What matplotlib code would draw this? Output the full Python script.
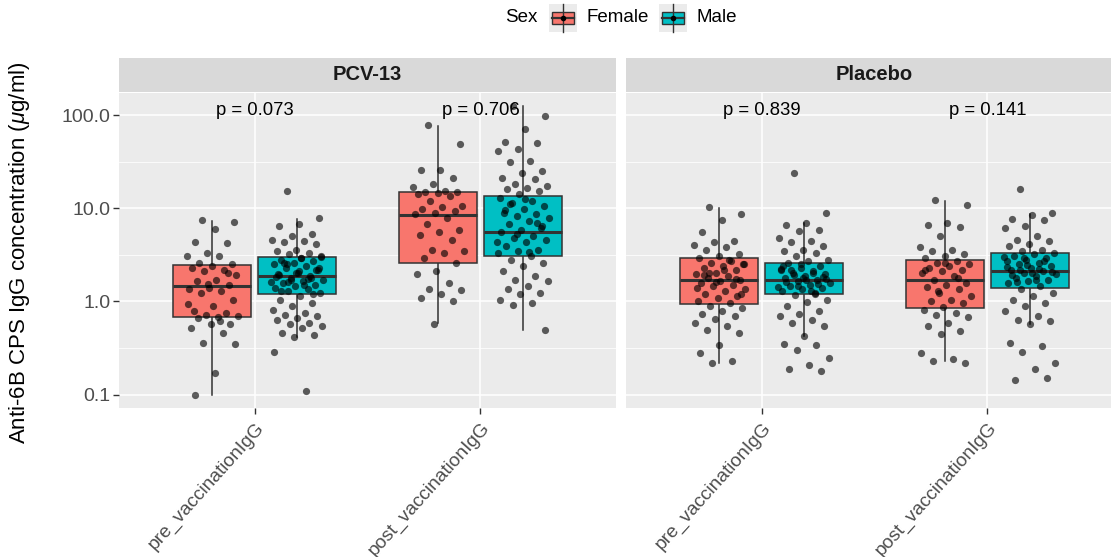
import numpy as np
import matplotlib
matplotlib.use("Agg")
from matplotlib import pyplot as plt
from matplotlib.patches import Rectangle

plt.rcParams['font.family'] = ['Liberation Sans', 'DejaVu Sans']
plt.rcParams['mathtext.fontset'] = 'custom'
plt.rcParams['mathtext.it'] = 'Liberation Sans:italic'
plt.rcParams['mathtext.rm'] = 'Liberation Sans'

# categorias e paineis
categorias = ['pre_vaccinationIgG', 'post_vaccinationIgG']
paineis = ['PCV-13', 'Placebo']
sexos = ['Female', 'Male']
cores = ['#F8766D', '#00BFC4']
p_valores = [['p = 0.073', 'p = 0.706'], ['p = 0.839', 'p = 0.141']]

# estatisticas das caixas: [bigode inf, Q1, mediana, Q3, bigode sup]
pcv_pre_female_box = [0.10, 0.68, 1.46, 2.46, 7.3]
pcv_pre_male_box = [0.42, 1.20, 1.87, 3.0, 7.7]
pcv_post_female_box = [0.59, 2.6, 8.5, 15.0, 77]
pcv_post_male_box = [0.49, 3.1, 5.6, 13.6, 126]
plc_pre_female_box = [0.22, 0.94, 1.70, 2.9, 10.0]
plc_pre_male_box = [0.43, 1.20, 1.72, 2.6, 7.0]
plc_post_female_box = [0.23, 0.85, 1.72, 2.8, 12.0]
plc_post_male_box = [0.57, 1.38, 2.10, 3.3, 8.6]

# pontos individuais (ug/ml)
pcv_pre_female = [7.4, 7.1, 6.0, 4.3, 4.2, 3.3, 3.1, 3.1, 2.6, 2.5, 2.4, 2.3, 2.2, 2.1,
                  1.9, 1.7, 1.66, 1.5, 1.4, 1.35, 1.3, 1.24, 1.05, 0.89, 0.79, 0.76,
                  0.72, 0.70, 0.68, 0.67, 0.58, 0.57, 0.52, 0.46, 0.36, 0.35, 0.17, 0.10,
                  2.0, 1.55, 0.95, 0.62]
pcv_pre_male = [15.2, 7.8, 6.7, 6.5, 5.3, 5.0, 4.6, 4.5, 4.3, 4.1, 3.6, 3.5, 3.3, 3.2,
                3.1, 2.95, 2.8, 2.7, 2.6, 2.5, 2.4, 2.3, 2.2, 2.03, 1.95, 1.87, 1.8,
                1.72, 1.65, 1.59, 1.52, 1.46, 1.4, 1.35, 1.29, 1.24, 1.14, 1.05, 0.97,
                0.89, 0.82, 0.76, 0.72, 0.70, 0.67, 0.64, 0.59, 0.57, 0.54, 0.52, 0.46,
                0.44, 0.42, 0.29, 0.11, 2.5, 2.3, 2.1, 1.9, 1.8, 1.7, 1.6, 1.5, 2.6,
                2.2, 2.0, 1.85, 1.75, 1.62, 3.0, 2.9, 1.3, 1.2]
pcv_post_female = [79, 49, 25.6, 26, 21, 18, 17, 15.4, 15.0, 14.8, 14.6, 14.4, 13.6, 12,
                   10.6, 10.2, 9.8, 9.4, 9.0, 8.6, 7.9, 6.7, 5.9, 5.5, 5.2, 4.6, 3.6,
                   3.5, 3.3, 2.95, 2.6, 2.1, 1.95, 1.59, 1.37, 1.32, 1.19, 1.09, 1.0, 0.58]
pcv_post_male = [125, 98, 71, 52, 50, 43, 41, 32, 31, 25, 24, 21, 20.5, 18, 17.4, 16.7,
                 16, 15.4, 14.2, 13, 12, 11.5, 10.6, 9.8, 9.0, 8.6, 8.3, 7.9, 7.3, 6.7,
                 6.2, 5.9, 5.5, 5.0, 4.8, 4.6, 4.3, 3.9, 3.6, 3.5, 3.3, 3.1, 2.8, 2.6,
                 2.4, 2.1, 1.87, 1.72, 1.66, 1.46, 1.35, 1.22, 1.19, 1.05, 0.97, 0.91,
                 0.49, 12.5, 9.5, 7.0, 5.3, 4.4, 3.4, 11.0, 6.5]
plc_pre_female = [10.2, 8.6, 7.5, 5.5, 4.5, 4.3, 4.0, 3.8, 3.6, 3.2, 3.1, 2.9, 2.7, 2.6,
                  2.5, 2.4, 2.3, 2.2, 2.03, 1.95, 1.87, 1.8, 1.72, 1.65, 1.59, 1.52,
                  1.46, 1.35, 1.29, 1.19, 1.14, 1.09, 1.0, 0.97, 0.89, 0.86, 0.79, 0.74,
                  0.70, 0.65, 0.59, 0.55, 0.50, 0.46, 0.34, 0.28, 0.23, 0.22, 2.5, 2.2,
                  1.9, 1.75, 1.6, 1.4, 2.8, 2.0, 1.2]
plc_pre_male = [23.8, 8.8, 7.0, 6.6, 5.9, 5.7, 4.8, 4.5, 4.3, 3.9, 3.6, 3.5, 3.3, 3.1,
                2.8, 2.7, 2.6, 2.4, 2.3, 2.2, 2.1, 2.03, 1.95, 1.87, 1.8, 1.72, 1.66,
                1.59, 1.52, 1.46, 1.4, 1.35, 1.29, 1.24, 1.16, 1.05, 0.98, 0.89, 0.79,
                0.74, 0.70, 0.64, 0.59, 0.54, 0.43, 0.35, 0.34, 0.30, 0.25, 0.21, 0.19,
                0.18, 2.5, 2.25, 2.0, 1.9, 1.75, 1.7, 1.62, 1.55, 1.48, 1.42, 1.3, 2.15,
                1.85, 1.78, 2.4, 1.2]
plc_post_female = [12.2, 10.9, 6.9, 6.6, 6.3, 5.1, 3.8, 3.6, 3.5, 3.2, 3.1, 2.95, 2.7,
                   2.6, 2.5, 2.4, 2.3, 2.2, 2.1, 2.03, 1.87, 1.72, 1.59, 1.52, 1.44,
                   1.35, 1.24, 1.14, 1.05, 1.01, 0.97, 0.88, 0.82, 0.76, 0.72, 0.68,
                   0.59, 0.55, 0.48, 0.45, 0.28, 0.24, 0.23, 0.22, 2.6, 2.2, 1.8, 1.3]
plc_post_male = [16.0, 9.0, 8.5, 7.6, 7.5, 6.4, 6.1, 5.0, 4.6, 4.5, 4.1, 3.9, 3.6, 3.5,
                 3.3, 3.2, 3.1, 2.95, 2.8, 2.7, 2.6, 2.5, 2.4, 2.3, 2.2, 2.1, 2.03,
                 1.95, 1.87, 1.8, 1.72, 1.66, 1.59, 1.46, 1.35, 1.24, 1.14, 1.05, 0.97,
                 0.89, 0.79, 0.70, 0.64, 0.61, 0.57, 0.36, 0.33, 0.29, 0.22, 0.19, 0.145,
                 0.15, 2.45, 2.35, 2.25, 2.15, 2.05, 2.0, 1.9, 2.7, 2.9, 3.0, 1.7, 1.6]

caixas = [[[pcv_pre_female_box, pcv_pre_male_box], [pcv_post_female_box, pcv_post_male_box]],
          [[plc_pre_female_box, plc_pre_male_box], [plc_post_female_box, plc_post_male_box]]]
pontos = [[[pcv_pre_female, pcv_pre_male], [pcv_post_female, pcv_post_male]],
          [[plc_pre_female, plc_pre_male], [plc_post_female, plc_post_male]]]

W, H = 1111, 557
fig = plt.figure(figsize=(W / 100, H / 100), dpi=100)

def fx(px):
    return px / W

def fy(py):
    return 1 - py / H

painel_esq = [119, 626]
painel_larg = 497
topo, base = 93, 408
ylim = (10 ** -1.143, 10 ** 2.237)
largura_caixa = 0.345
desloc = 0.1875
cinza = '#333333'

for k, nome in enumerate(paineis):
    ax = fig.add_axes([fx(painel_esq[k]), fy(base), painel_larg / W, (base - topo) / H])
    ax.set_facecolor('#EBEBEB')
    ax.set_yscale('log')
    ax.set_ylim(*ylim)
    ax.set_xlim(0.4, 2.6)
    for s in ax.spines.values():
        s.set_visible(False)

    # grade no estilo ggplot
    for v in [0.1, 1, 10, 100]:
        ax.axhline(v, color='white', lw=1.1, zorder=0)
    for v in [10 ** -0.5, 10 ** 0.5, 10 ** 1.5]:
        ax.axhline(v, color='white', lw=0.55, zorder=0)
    for xc in [1, 2]:
        ax.axvline(xc, color='white', lw=1.1, zorder=0)

    for i in range(len(categorias)):
        xc = i + 1
        for j in range(len(sexos)):
            lo, q1, med, q3, hi = caixas[k][i][j]
            xp = xc + (2 * j - 1) * desloc
            ax.plot([xp, xp], [lo, q1], color=cinza, lw=1.1, zorder=2)
            ax.plot([xp, xp], [q3, hi], color=cinza, lw=1.1, zorder=2)
            ax.add_patch(Rectangle((xp - largura_caixa / 2, q1), largura_caixa, q3 - q1,
                                   facecolor=cores[j], edgecolor=cinza, lw=1.1, zorder=3))
            ax.plot([xp - largura_caixa / 2, xp + largura_caixa / 2], [med, med],
                    color=cinza, lw=2.2, zorder=4, solid_capstyle='butt')
            y = np.array(pontos[k][i][j])
            n = len(y)
            jit = ((np.arange(n) * 0.618034 + 0.31) % 1 - 0.5) * 0.23
            ax.plot(xp + jit, y, 'o', color='black', alpha=0.62, ms=5.2, mew=0, zorder=5)
        ax.text(xc, 113, p_valores[k][i], ha='center', va='center', fontsize=13.3,
                color='black', zorder=6)

    ax.set_xticks([1, 2])
    ax.set_xticklabels(categorias, rotation=48, ha='right', rotation_mode='anchor',
                       fontsize=13.8, color='#4D4D4D')
    ax.tick_params(axis='x', length=4, width=1, color='#333333', pad=4)
    ax.set_yticks([0.1, 1, 10, 100])
    ax.yaxis.set_minor_locator(matplotlib.ticker.NullLocator())
    if k == 0:
        ax.set_yticklabels(['0.1', '1.0', '10.0', '100.0'], fontsize=14, color='#4D4D4D')
        ax.tick_params(axis='y', length=4, width=1, color='#333333', pad=2)
    else:
        ax.tick_params(axis='y', length=0, labelleft=False)

    # faixa do painel
    sx = fig.add_axes([fx(painel_esq[k]), fy(92), painel_larg / W, 34 / H])
    sx.set_facecolor('#D9D9D9')
    sx.set_xticks([])
    sx.set_yticks([])
    for s in sx.spines.values():
        s.set_visible(False)
    sx.text(0.5, 0.5, nome, ha='center', va='center', fontsize=14.5, fontweight='bold',
            color='#1A1A1A', transform=sx.transAxes)

fig.text(fx(20), fy(253), r'Anti-6B CPS IgG concentration ($\mu$g/ml)', rotation=90,
         ha='center', va='center', fontsize=16)

# legenda desenhada a mao no topo
lg = fig.add_axes([0, 0, 1, 1], facecolor='none')
lg.set_xlim(0, W)
lg.set_ylim(H, 0)
lg.axis('off')
lg.text(505, 18, 'Sex', ha='left', va='center', fontsize=13.5)
for j, (x0, xt) in enumerate([(549, 587), (659, 696)]):
    lg.add_patch(Rectangle((x0, 4), 28, 28, facecolor='#EBEBEB', edgecolor='none'))
    xm = x0 + 14
    lg.plot([xm, xm], [4, 32], color=cinza, lw=1.0)
    lg.add_patch(Rectangle((x0 + 3, 12), 22, 12, facecolor=cores[j], edgecolor=cinza, lw=1.0))
    lg.plot([x0 + 3, x0 + 25], [18, 18], color=cinza, lw=1.6)
    lg.plot([xm], [18], 'o', color='black', ms=4, mew=0)
    lg.text(xt, 18, sexos[j], ha='left', va='center', fontsize=13.5)

fig.savefig('out.png', dpi=100)
